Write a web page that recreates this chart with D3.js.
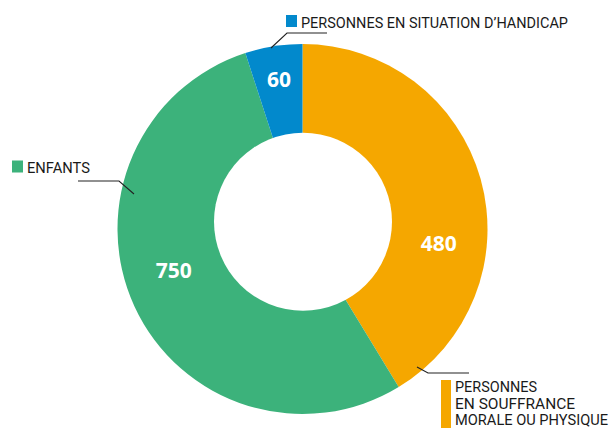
<!DOCTYPE html>
<html>
<head>
<meta charset="utf-8">
<script src="https://cdn.jsdelivr.net/npm/d3@7"></script>
<style>
  body { margin: 0; background: #fff; }
  svg { display: block; }
  .lbl { font-family: "Roboto", "Liberation Sans Narrow", sans-serif; font-size: 14.5px; fill: #1a1a1a; }
  .val { font-family: "Open Sans", "Noto Sans", sans-serif; font-weight: 700; font-size: 21px; fill: #fff; }
</style>
</head>
<body>
<svg id="chart" width="610" height="428"></svg>
<script>
// categories, clockwise from the top
const categories = ["PERSONNES EN SOUFFRANCE MORALE OU PHYSIQUE", "ENFANTS", "PERSONNES EN SITUATION D\u2019HANDICAP"]
const values = [480, 750, 60]
// share of the ring each slice takes in the picture (%)
const shares = [41.3, 53.7, 5.0]
const colors = ["#F5A700", "#3CB27B", "#0289CC"]

const svg = d3.select("#chart")
const cx = 302.5, cy = 229, outerR = 185

const pie = d3.pie().sort(null).value(d => d.share)
const arc = d3.arc().innerRadius(0).outerRadius(outerR)

const slices = pie(categories.map((c, i) => ({ name: c, value: values[i], share: shares[i], color: colors[i] })))

const g = svg.append("g").attr("transform", `translate(${cx},${cy})`)

g.selectAll("path")
  .data(slices)
  .enter()
  .append("path")
  .attr("d", arc)
  .attr("fill", d => d.data.color)

// hole (sits a bit above the ring centre in the original)
svg.append("circle")
  .attr("cx", 303).attr("cy", 221.7).attr("r", 89)
  .attr("fill", "#fff")

// value labels, placed by angle (deg) and radius
const labelAt = [[96, 137], [252, 135.5], [351, 151]]
g.selectAll("text.val")
  .data(slices)
  .enter()
  .append("text")
  .attr("class", "val")
  .attr("text-anchor", "middle")
  .attr("dy", "0.36em")
  .attr("x", (d, i) => labelAt[i][1] * Math.sin(labelAt[i][0] * Math.PI / 180))
  .attr("y", (d, i) => -labelAt[i][1] * Math.cos(labelAt[i][0] * Math.PI / 180))
  .text(d => d.data.value)

// leader lines
const leader = [
  [[271, 48], [287, 33], [327, 33]],
  [[134, 194], [119, 181], [78, 181]],
  [[417, 367], [428, 373], [469, 373]]
]
svg.selectAll("path.leader")
  .data(leader)
  .enter()
  .append("path")
  .attr("d", d3.line())
  .attr("fill", "none")
  .attr("stroke", "#222")
  .attr("stroke-width", 1.1)

// legend keys
svg.append("rect").attr("x", 286).attr("y", 15).attr("width", 11).attr("height", 12).attr("fill", colors[2])
svg.append("text").attr("class", "lbl").attr("x", 301).attr("y", 27.5)
  .attr("textLength", 267).attr("lengthAdjust", "spacingAndGlyphs").text(categories[2])

svg.append("rect").attr("x", 12).attr("y", 160.5).attr("width", 11).attr("height", 12).attr("fill", colors[1])
svg.append("text").attr("class", "lbl").attr("x", 27).attr("y", 172.7)
  .attr("textLength", 63).attr("lengthAdjust", "spacingAndGlyphs").text(categories[1])

svg.append("rect").attr("x", 441).attr("y", 380).attr("width", 10).attr("height", 50).attr("fill", colors[0])
const bottomLines = [["PERSONNES", 82], ["EN SOUFFRANCE", 120], ["MORALE OU PHYSIQUE", 153]]
svg.selectAll("text.bl")
  .data(bottomLines)
  .enter()
  .append("text")
  .attr("class", "lbl")
  .attr("x", 455)
  .attr("y", (d, i) => 391.8 + i * 16.8)
  .attr("textLength", d => d[1])
  .attr("lengthAdjust", "spacingAndGlyphs")
  .text(d => d[0])
</script>
</body>
</html>
